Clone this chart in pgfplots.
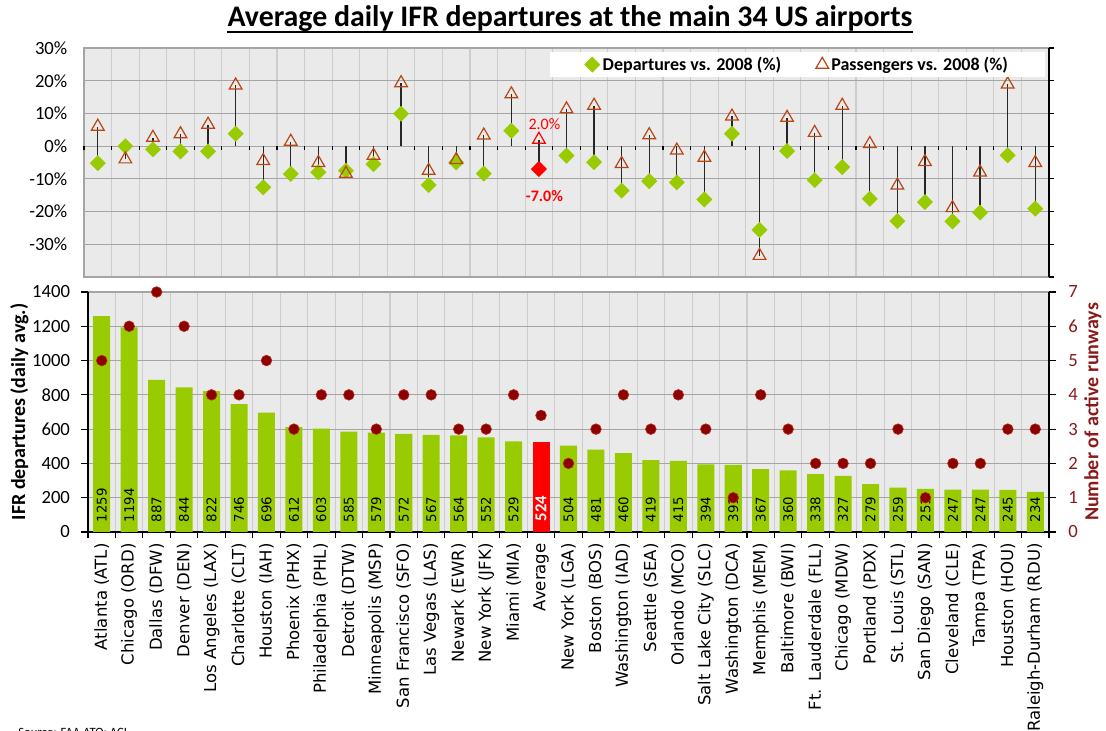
\documentclass[border=0pt]{standalone}
\usepackage{fontspec}
\setmainfont{Carlito}
\newfontfamily\xlabfont{DejaVu Sans}
\usepackage{pgfplots}
\usepackage{pgfplotstable}
\pgfplotsset{compat=1.18}

\definecolor{grn}{RGB}{153,204,0}
\definecolor{plotbg}{RGB}{234,234,234}
\definecolor{hgrid}{RGB}{165,165,165}
\definecolor{vgrid}{RGB}{205,205,205}
\definecolor{dotred}{RGB}{140,0,0}
\definecolor{dotedge}{RGB}{175,45,30}
\definecolor{triedge}{RGB}{185,70,20}
\definecolor{runred}{RGB}{140,25,25}

% x = category position (Average sits at 16)
\pgfplotstableread{
x  dep   run  dchg   pchg
0  1259  5    -5.2    6.0
1  1194  6     0.0   -4.0
2  887   7    -1.0    2.6
3  844   6    -1.6    3.7
4  822   4    -1.6    6.6
5  746   4     3.8   18.6
6  696   5   -12.6   -4.5
7  612   3    -8.5    1.4
8  603   4    -8.0   -5.1
9  585   4    -7.5   -8.4
10 579   3    -5.5   -2.9
11 572   4     9.9   19.3
12 567   4   -11.9   -7.5
13 564   3    -5.0   -4.2
14 552   3    -8.4    3.3
15 529   4     4.7   15.9
17 504   2    -2.9   11.3
18 481   3    -4.9   12.4
19 460   4   -13.6   -5.4
20 419   3   -10.7    3.4
21 415   4   -11.1   -1.3
22 394   3   -16.3   -3.5
23 391   1     3.8    9.1
24 367   4   -25.6  -33.5
25 360   3    -1.5    8.7
26 338   2   -10.4    4.1
27 327   2    -6.4   12.4
28 279   2   -16.1    0.7
29 259   3   -22.9  -12.0
30 251   1   -17.1   -4.8
31 247   2   -23.0  -18.9
32 247   2   -20.3   -8.0
33 245   3    -2.8   18.9
34 234   3   -19.1   -5.1
}\airports
\pgfplotstableread{
x  dep  run  dchg  pchg
16 524  3.4  -7.0  2.0
}\average

\pgfplotsset{
  /pgf/number format/1000 sep={},
  /pgf/number format/assume math mode=true,
  panel/.style={
    scale only axis,
    xmin=-0.5, xmax=34.5,
    axis background/.style={fill=plotbg},
    xtick={0,...,34},
    minor xtick={-0.5,0.5,...,34.5},
    xminorgrids=true, ymajorgrids=true,
    minor x grid style={draw=vgrid, line width=0.8pt},
    major y grid style={draw=hgrid, line width=0.9pt},
    major x tick style={draw=none},
    tick label style={font=\fontsize{14}{16}\selectfont},
  },
}

\begin{document}
\begin{tikzpicture}

% ---- top panel: change vs 2008 ----
\begin{axis}[panel,
  at={(63pt,340.5pt)}, anchor=south west, width=723.75pt, height=171.75pt,
  ymin=-40, ymax=30,
  ytick={-30,-20,...,30},
  yticklabels={-30\%,-20\%,-10\%,0\%,10\%,20\%,30\%},
  yticklabel style={xshift=-9pt},
  xticklabels={},
  ytick style={draw=none},
  minor x tick style={draw=none},
  axis line style={draw=hgrid, line width=0.9pt},
  extra y ticks={0}, extra y tick labels={},
  extra y tick style={grid=major, major grid style={draw=black, line width=1pt}, tick style={draw=none}},
  clip=false,
  legend columns=2,
  legend style={at={(1,1)}, anchor=north east, xshift=-2.5pt, yshift=-3pt,
    fill=white, draw=none, inner xsep=26pt, inner ysep=1.5pt,
    font=\bfseries\fontsize{13.5}{15}\selectfont,
    /tikz/every even column/.append style={column sep=24pt}},
]
\addplot[ycomb, draw=black!85, line width=0.9pt, forget plot] table[x=x, y=dchg] {\airports};
\addplot[ycomb, draw=black!85, line width=0.9pt, forget plot] table[x=x, y=pchg] {\airports};
\addplot[ycomb, draw=black!85, line width=0.9pt, forget plot] table[x=x, y=dchg] {\average};
\addplot[ycomb, draw=black!85, line width=0.9pt, forget plot] table[x=x, y=pchg] {\average};

\addplot[only marks, mark=square*, mark size=4.1pt,
  mark options={rotate=45, fill=grn, draw=grn, line width=0.2pt}]
  table[x=x, y=dchg] {\airports};
\addlegendentry{Departures vs. 2008 (\%)}
\addplot[only marks, mark=square*, mark size=4.1pt, forget plot,
  mark options={rotate=45, fill=red, draw=red, line width=0.2pt}]
  table[x=x, y=dchg] {\average};

\addplot[only marks, mark=triangle, mark size=5.5pt,
  mark options={draw=triedge, line width=0.9pt}]
  table[x=x, y=pchg] {\airports};
\addlegendentry{Passengers vs. 2008 (\%)}
\addplot[only marks, mark=triangle, mark size=5.5pt, forget plot,
  mark options={draw=red, line width=0.9pt}]
  table[x=x, y=pchg] {\average};

\pgfplotsinvokeforeach{-0.5,0.5,...,34.5}{
  \draw[black, line width=0.8pt] (axis cs:#1,0) -- ++(0pt,-3pt);
}
\node[text=red, font=\fontsize{12}{14}\selectfont] at (axis cs:16.2,6.7) {2.0\%};
\node[text=red, font=\bfseries\fontsize{12}{14}\selectfont] at (axis cs:16.2,-15.2) {-7.0\%};
\end{axis}

\begin{axis}[scale only axis, width=723.75pt, height=171.75pt,
  at={(63pt,340.5pt)}, anchor=south west,
  xmin=-0.5, xmax=34.5, ymin=-40, ymax=30,
  ytick={-40,-30,...,30}, yticklabels={},
  axis x line=none, axis y line*=right,
  y axis line style={draw=black, line width=1pt, -},
  tick align=outside, major tick length=4pt,
  ytick style={draw=black, line width=0.8pt},
]
\end{axis}

% ---- bottom panel: departures and runways ----
\begin{axis}[panel,
  at={(66pt,149.25pt)}, anchor=south west, width=720.75pt, height=180pt,
  ymin=0, ymax=1400, ytick={0,200,...,1400},
  axis x line*=bottom, axis y line*=left,
  axis line style={draw=black, line width=1pt, -},
  tick align=outside, major tick length=5pt, minor tick length=4.5pt,
  ytick style={draw=black, line width=0.8pt},
  yticklabel style={xshift=-5pt},
  minor x tick style={draw=black, line width=0.8pt},
  xticklabels={Atlanta (ATL), Chicago (ORD), Dallas (DFW), Denver (DEN), Los Angeles (LAX),
    Charlotte (CLT), Houston (IAH), Phoenix (PHX), Philadelphia (PHL), Detroit (DTW),
    Minneapolis (MSP), San Francisco (SFO), Las Vegas (LAS), Newark (EWR), New York (JFK),
    Miami (MIA), Average, New York (LGA), Boston (BOS), Washington (IAD), Seattle (SEA),
    Orlando (MCO), Salt Lake City (SLC), Washington (DCA), Memphis (MEM), Baltimore (BWI),
    Ft. Lauderdale (FLL), Chicago (MDW), Portland (PDX), St. Louis (STL), San Diego (SAN),
    Cleveland (CLE), Tampa (TPA), Houston (HOU), Raleigh-Durham (RDU)},
  xticklabel style={rotate=90, anchor=east, font=\xlabfont\fontsize{12.4}{14}\selectfont},
]
\addplot[ybar, bar width=0.62, fill=grn, draw=none] table[x=x, y=dep] {\airports};
\addplot[ybar, bar width=0.62, fill=red, draw=none] table[x=x, y=dep] {\average};
\addplot[draw=none, nodes near coords, point meta=explicit,
  every node near coord/.append style={yshift=6pt, rotate=90, anchor=west, inner sep=1pt,
    font=\xlabfont\fontsize{10}{12}\selectfont}]
  table[x=x, y expr=0, meta=dep] {\airports};
\addplot[draw=none, nodes near coords, point meta=explicit,
  every node near coord/.append style={yshift=7pt, rotate=90, anchor=west, inner sep=1pt,
    text=white, font=\bfseries\fontsize{12.5}{14}\selectfont}]
  table[x=x, y expr=0, meta=dep] {\average};
\end{axis}

\begin{axis}[scale only axis, width=720.75pt, height=180pt,
  at={(66pt,149.25pt)}, anchor=south west,
  xmin=-0.5, xmax=34.5, ymin=0, ymax=7, ytick={0,...,7},
  axis x line=none, axis y line*=right,
  y axis line style={draw=black, line width=1pt, -},
  tick align=outside, major tick length=5pt,
  ytick style={draw=black, line width=0.8pt},
  yticklabel style={text=runred, xshift=6pt, font=\fontsize{14}{16}\selectfont},
  clip=false,
]
\addplot[only marks, mark=*, mark size=4pt,
  mark options={fill=dotred, draw=dotedge, line width=0.5pt}]
  table[x=x, y=run] {\airports};
\addplot[only marks, mark=*, mark size=4pt,
  mark options={fill=dotred, draw=dotedge, line width=0.5pt}]
  table[x=x, y=run] {\average};
\end{axis}

\node[rotate=90, font=\bfseries\fontsize{15}{17}\selectfont]
  at (14.5pt,239.25pt) {IFR departures (daily avg.)};
\node[rotate=90, text=runred, font=\bfseries\fontsize{15}{17}\selectfont]
  at (819.75pt,239.25pt) {Number of active runways};

\node[anchor=base, inner sep=0pt, font=\bfseries\fontsize{22.4}{26}\selectfont] (title)
  at (427.5pt,528pt) {Average daily IFR departures at the main 34 US airports};
\draw[line width=1.5pt] ([yshift=-4pt]title.base west) -- ([yshift=-4pt]title.base east);

\node[anchor=base west, inner sep=0pt, font=\fontsize{9.5}{11}\selectfont]
  at (13.5pt,-4pt) {Source: FAA ATO; ACI};

\pgfresetboundingbox
\path[use as bounding box] (0,0) rectangle (829.5pt,548.25pt);
\end{tikzpicture}
\end{document}
